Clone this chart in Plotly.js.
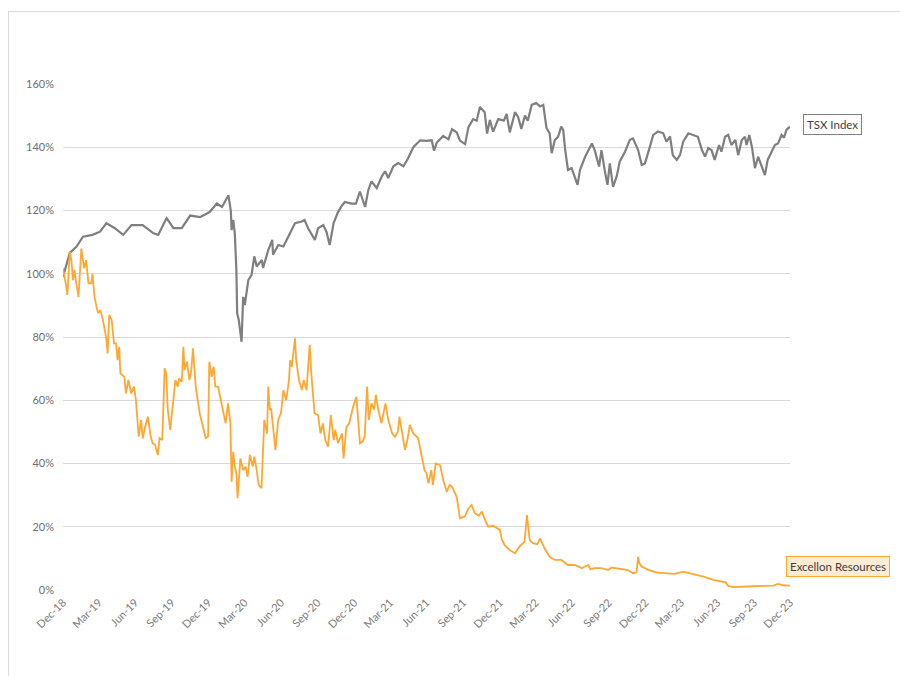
<!DOCTYPE html>
<html>
<head>
<meta charset="utf-8">
<script src="https://cdn.plot.ly/plotly-3.0.1.min.js"></script>
<style>
  html, body { margin: 0; padding: 0; background: #ffffff; }
  #frame { position: absolute; left: 8px; top: 11px; width: 892px; height: 665px;
           border-left: 1px solid #d9d9d9; border-top: 1px solid #d9d9d9; }
  #chart { position: absolute; left: 0; top: 0; width: 900px; height: 676px; }
</style>
</head>
<body>
<div id="frame"></div>
<div id="chart"></div>
<script>
// ---- TSX Index (normalised, %) ----
const tsxDates = [
 '2018-12-31','2019-01-09','2019-01-17','2019-02-03','2019-02-19','2019-03-15','2019-04-03','2019-04-19',
 '2019-05-10','2019-05-31','2019-06-21','2019-07-19','2019-08-15','2019-08-27','2019-09-17','2019-10-04',
 '2019-10-25','2019-11-15','2019-12-10','2020-01-03','2020-01-21','2020-02-03','2020-02-19','2020-02-25',
 '2020-02-27','2020-03-02','2020-03-06','2020-03-10','2020-03-12','2020-03-16','2020-03-23','2020-03-27',
 '2020-03-31','2020-04-09','2020-04-17','2020-04-24','2020-04-30','2020-05-13','2020-05-16','2020-05-29',
 '2020-06-08','2020-06-10','2020-06-23','2020-07-06','2020-07-14','2020-07-22','2020-08-04','2020-08-21',
 '2020-08-28','2020-09-06','2020-09-23','2020-10-01','2020-10-14','2020-10-22','2020-10-30','2020-11-09',
 '2020-11-20','2020-11-30','2020-12-07','2020-12-24','2021-01-04','2021-01-14','2021-01-27','2021-02-04',
 '2021-02-12','2021-02-25','2021-03-10','2021-03-18','2021-03-26','2021-04-08','2021-04-20','2021-05-03',
 '2021-05-14','2021-05-28','2021-06-14','2021-06-30','2021-07-13','2021-07-19','2021-07-26','2021-08-11',
 '2021-08-24','2021-09-02','2021-09-14','2021-09-22','2021-10-05','2021-10-13','2021-10-25','2021-11-03',
 '2021-11-11','2021-11-23','2021-11-29','2021-12-06','2021-12-14','2021-12-27','2022-01-10','2022-01-17',
 '2022-01-25','2022-02-07','2022-02-15','2022-02-23','2022-03-04','2022-03-11','2022-03-21','2022-04-01',
 '2022-04-11','2022-04-19','2022-04-27','2022-05-05','2022-05-10','2022-05-18','2022-05-26','2022-06-03',
 '2022-06-08','2022-06-13','2022-06-20','2022-06-29','2022-07-07','2022-07-14','2022-07-20','2022-08-02',
 '2022-08-19','2022-08-26','2022-09-06','2022-09-12','2022-09-20','2022-09-27','2022-10-03','2022-10-11',
 '2022-10-20','2022-10-28','2022-11-10','2022-11-22','2022-11-30','2022-12-13','2022-12-22','2022-12-30',
 '2023-01-09','2023-01-20','2023-02-01','2023-02-14','2023-02-22','2023-03-03','2023-03-10','2023-03-20',
 '2023-03-28','2023-04-05','2023-04-18','2023-05-01','2023-05-12','2023-05-22','2023-05-30','2023-06-07',
 '2023-06-15','2023-06-23','2023-07-04','2023-07-10','2023-07-19','2023-07-27','2023-08-04','2023-08-14',
 '2023-08-21','2023-08-30','2023-09-07','2023-09-11','2023-09-18','2023-09-25','2023-10-02','2023-10-10',
 '2023-10-19','2023-10-27','2023-11-03','2023-11-13','2023-11-21','2023-11-29','2023-12-08','2023-12-14',
 '2023-12-20','2023-12-29'
];
const tsxValues = [
 99.0,103.5,106.6,108.6,111.7,112.3,113.3,116.0,
 114.4,112.3,115.4,115.4,112.8,112.3,117.6,114.4,
 114.4,118.4,117.9,119.5,122.2,121.1,124.8,120.0,
 113.8,117.0,112.8,101.2,87.5,85.4,78.5,92.7,
 90.1,98.0,99.6,105.5,102.3,104.4,101.8,107.5,
 110.7,106.0,109.1,108.6,110.7,112.8,116.0,116.5,
 117.0,114.4,110.7,114.4,115.4,113.3,109.1,116.0,
 119.5,121.6,122.7,122.2,122.2,126.0,121.1,126.5,
 129.2,127.1,130.8,132.4,130.3,134.0,135.0,134.0,
 136.3,140.0,142.2,142.0,142.2,138.9,141.5,143.6,
 142.5,145.7,144.7,142.1,141.0,146.3,148.9,148.4,
 152.7,151.1,144.3,148.6,144.9,148.9,148.4,150.5,
 144.7,151.1,149.5,145.8,150.0,148.4,153.4,154.0,
 152.9,153.4,146.1,144.4,138.1,142.3,143.3,146.5,
 145.5,139.1,132.8,133.4,130.7,128.1,132.8,137.0,
 141.2,139.1,133.9,139.1,132.8,128.1,134.9,127.5,
 130.7,135.5,138.6,142.3,142.8,139.1,134.4,134.9,
 139.1,143.9,145.0,144.4,141.8,143.4,137.5,136.0,
 137.5,141.8,144.4,143.9,143.3,139.1,137.0,139.7,
 139.1,136.0,140.7,138.6,143.3,143.9,140.7,142.3,
 137.5,142.3,143.3,140.7,143.9,139.7,133.4,137.0,
 133.9,131.2,136.0,138.6,140.7,141.2,143.9,143.0,
 145.5,146.5
];

// ---- Excellon Resources (normalised, %) ----
const excDates = [
 '2018-12-31','2019-01-04','2019-01-08','2019-01-11','2019-01-17','2019-01-21','2019-01-25','2019-01-29',
 '2019-02-01','2019-02-08','2019-02-11','2019-02-15','2019-02-22','2019-02-27','2019-03-05','2019-03-12',
 '2019-03-15','2019-03-20','2019-03-25','2019-03-29','2019-04-04','2019-04-10','2019-04-18','2019-04-22',
 '2019-04-26','2019-05-02','2019-05-08','2019-05-13','2019-05-17','2019-05-21','2019-05-24','2019-06-03',
 '2019-06-07','2019-06-13','2019-06-20','2019-06-27','2019-07-02','2019-07-05','2019-07-09','2019-07-15',
 '2019-07-19','2019-07-25','2019-08-01','2019-08-08','2019-08-13','2019-08-19','2019-08-26','2019-08-30',
 '2019-09-06','2019-09-12','2019-09-16','2019-09-20','2019-09-26','2019-10-03','2019-10-09','2019-10-15',
 '2019-10-18','2019-10-25','2019-10-29','2019-11-01','2019-11-07','2019-11-13','2019-11-18','2019-11-22',
 '2019-11-26','2019-11-29','2019-12-09','2019-12-17','2019-12-24','2019-12-30','2020-01-02','2020-01-08',
 '2020-01-13','2020-01-17','2020-01-24','2020-01-31','2020-02-06','2020-02-12','2020-02-18','2020-02-24',
 '2020-02-27','2020-03-02','2020-03-06','2020-03-10','2020-03-13','2020-03-17','2020-03-20','2020-03-27',
 '2020-04-02','2020-04-07','2020-04-13','2020-04-20','2020-04-24','2020-04-30','2020-05-05','2020-05-12',
 '2020-05-19','2020-05-26','2020-05-29','2020-06-02','2020-06-05','2020-06-10','2020-06-16','2020-06-23',
 '2020-06-30','2020-07-06','2020-07-13','2020-07-20','2020-07-23','2020-07-27','2020-07-31','2020-08-04',
 '2020-08-07','2020-08-14','2020-08-21','2020-08-26','2020-09-02','2020-09-10','2020-09-14','2020-09-22',
 '2020-10-01','2020-10-07','2020-10-13','2020-10-19','2020-10-26','2020-11-02','2020-11-09','2020-11-13',
 '2020-11-20','2020-11-30','2020-12-04','2020-12-11','2020-12-18','2020-12-28','2021-01-05','2021-01-14',
 '2021-01-21','2021-01-26','2021-02-01','2021-02-05','2021-02-12','2021-02-18','2021-02-23','2021-03-01',
 '2021-03-09','2021-03-19','2021-03-26','2021-04-05','2021-04-12','2021-04-19','2021-04-23','2021-05-03',
 '2021-05-07','2021-05-13','2021-05-19','2021-05-28','2021-06-09','2021-06-18','2021-06-25','2021-06-30',
 '2021-07-05','2021-07-12','2021-07-16','2021-07-23','2021-08-03','2021-08-11','2021-08-20','2021-08-27',
 '2021-09-03','2021-09-14','2021-09-22','2021-10-04','2021-10-13','2021-10-21','2021-10-29','2021-11-08',
 '2021-11-16','2021-11-24','2021-12-02','2021-12-14','2021-12-27','2021-12-31','2022-01-05','2022-01-12',
 '2022-01-25','2022-02-07','2022-02-18','2022-03-03','2022-03-09','2022-03-16','2022-03-24','2022-04-04',
 '2022-04-11','2022-04-22','2022-05-05','2022-05-18','2022-06-03','2022-06-20','2022-07-07','2022-07-25',
 '2022-08-02','2022-08-10','2022-08-15','2022-08-26','2022-09-12','2022-09-29','2022-10-07','2022-11-01',
 '2022-11-17','2022-11-30','2022-12-09','2022-12-13','2022-12-16','2022-12-22','2022-12-30','2023-01-09',
 '2023-01-30','2023-02-22','2023-03-15','2023-04-05','2023-05-01','2023-05-26','2023-06-20','2023-07-14',
 '2023-07-21','2023-07-27','2023-08-09','2023-09-11','2023-10-13','2023-11-17','2023-11-29','2023-12-12',
 '2023-12-29'
];
const excValues = [
 101.7,98.0,96.0,93.3,107.0,104.3,98.0,101.2,
 98.0,92.7,101.0,108.0,101.7,104.3,97.0,97.0,
 100.0,92.7,89.6,87.5,88.5,85.4,80.1,74.8,
 87.0,85.4,78.0,78.0,72.7,76.9,68.5,67.4,
 62.2,66.4,62.2,64.3,60.0,54.8,48.5,53.8,
 47.9,51.6,54.8,48.5,46.4,45.9,42.7,48.0,
 47.4,70.1,68.5,56.9,50.6,59.0,66.4,64.3,
 66.9,65.8,76.9,69.6,72.2,66.4,69.6,76.4,
 70.6,64.3,55.9,51.6,48.0,48.5,72.2,67.4,
 70.6,64.3,64.3,60.0,55.9,52.7,59.0,52.7,
 34.2,43.7,39.0,37.0,29.0,37.9,41.6,37.9,
 39.0,35.8,42.7,39.0,42.2,37.9,33.2,32.2,
 53.8,49.5,64.3,56.9,57.5,51.6,44.3,53.8,
 56.0,63.2,60.0,66.4,72.7,70.6,76.4,79.6,
 72.7,66.4,63.2,66.4,63.2,77.5,68.5,55.9,
 55.3,49.5,52.7,47.4,45.3,55.3,47.4,50.6,
 46.4,49.5,41.6,51.6,52.7,58.0,61.1,46.4,
 47.0,48.5,64.3,53.8,59.0,57.0,61.7,56.9,
 52.7,59.0,53.8,49.5,48.5,50.0,54.8,46.4,
 44.3,47.4,52.2,49.5,48.0,42.2,37.9,36.9,
 33.7,37.9,33.2,40.0,39.5,34.8,31.1,33.2,
 32.5,29.3,22.7,23.2,25.8,26.9,24.3,23.5,
 24.8,22.1,20.0,20.3,19.5,19.0,16.0,14.2,
 12.6,11.6,13.7,15.3,23.7,15.8,14.8,14.5,
 16.3,13.2,10.5,9.5,9.5,7.9,7.9,6.9,
 7.5,7.9,6.6,6.9,6.9,6.3,7.1,6.7,
 6.3,5.3,5.6,10.5,8.5,7.4,6.9,6.3,
 5.5,5.3,5.1,5.8,5.1,4.2,3.2,2.6,
 2.4,1.3,0.9,1.1,1.3,1.4,1.9,1.5,
 1.4
];

// ---- axis ticks ----
const tickDates = [
 '2018-12-31','2019-03-31','2019-06-30','2019-09-30','2019-12-31','2020-03-31','2020-06-30',
 '2020-09-30','2020-12-31','2021-03-31','2021-06-30','2021-09-30','2021-12-31','2022-03-31',
 '2022-06-30','2022-09-30','2022-12-31','2023-03-31','2023-06-30','2023-09-30','2023-12-29'
];
const tickLabels = [
 'Dec-18','Mar-19','Jun-19','Sep-19','Dec-19','Mar-20','Jun-20','Sep-20','Dec-20','Mar-21','Jun-21',
 'Sep-21','Dec-21','Mar-22','Jun-22','Sep-22','Dec-22','Mar-23','Jun-23','Sep-23','Dec-23'
];
const seriesNames = ['TSX Index', 'Excellon Resources'];

const FONT = 'Lato, "Open Sans", sans-serif';
const traces = [
  { x: tsxDates, y: tsxValues, type: 'scatter', mode: 'lines', name: seriesNames[0],
    line: { color: '#7f7f7f', width: 2.2 } },
  { x: excDates, y: excValues, type: 'scatter', mode: 'lines', name: seriesNames[1],
    line: { color: '#ffa733', width: 1.8 } }
];

const layout = {
  width: 900, height: 676,
  margin: { l: 63, r: 110, t: 84, b: 86 },
  paper_bgcolor: 'rgba(0,0,0,0)', plot_bgcolor: 'rgba(0,0,0,0)',
  showlegend: false,
  font: { family: FONT, color: '#595959', size: 11 },
  xaxis: {
    type: 'date', range: ['2018-12-31', '2023-12-29'],
    tickmode: 'array', tickvals: tickDates, ticktext: tickLabels,
    tickangle: -45, showgrid: false, zeroline: false,
    showline: false, ticks: '', ticklabelstandoff: 3,
    tickfont: { family: FONT, size: 11, color: '#7a7a7a' }
  },
  yaxis: {
    range: [0, 160], dtick: 20, ticksuffix: '%',
    gridcolor: '#d9d9d9', gridwidth: 1, zeroline: false, showline: false,
    ticks: '', ticklabelstandoff: 8,
    tickfont: { family: FONT, size: 11, color: '#6e6e6e' }
  },
  annotations: [
    { x: tsxDates[tsxDates.length - 1], y: tsxValues[tsxValues.length - 1],
      xref: 'x', yref: 'y', text: seriesNames[0], showarrow: false,
      xanchor: 'left', yanchor: 'middle', xshift: 13, yshift: 2,
      font: { family: FONT, size: 11.5, color: '#404040' },
      bgcolor: '#ffffff', bordercolor: '#808080', borderwidth: 1, borderpad: 3 },
    { x: excDates[excDates.length - 1], y: excValues[excValues.length - 1],
      xref: 'x', yref: 'y', text: seriesNames[1], showarrow: false,
      xanchor: 'left', yanchor: 'middle', xshift: -4, yshift: 19,
      font: { family: FONT, size: 11.5, color: '#404040' },
      bgcolor: '#fdebd3', bordercolor: '#ffa733', borderwidth: 1, borderpad: 3 }
  ]
};

Plotly.newPlot('chart', traces, layout, { displayModeBar: false, staticPlot: true });
</script>
</body>
</html>
